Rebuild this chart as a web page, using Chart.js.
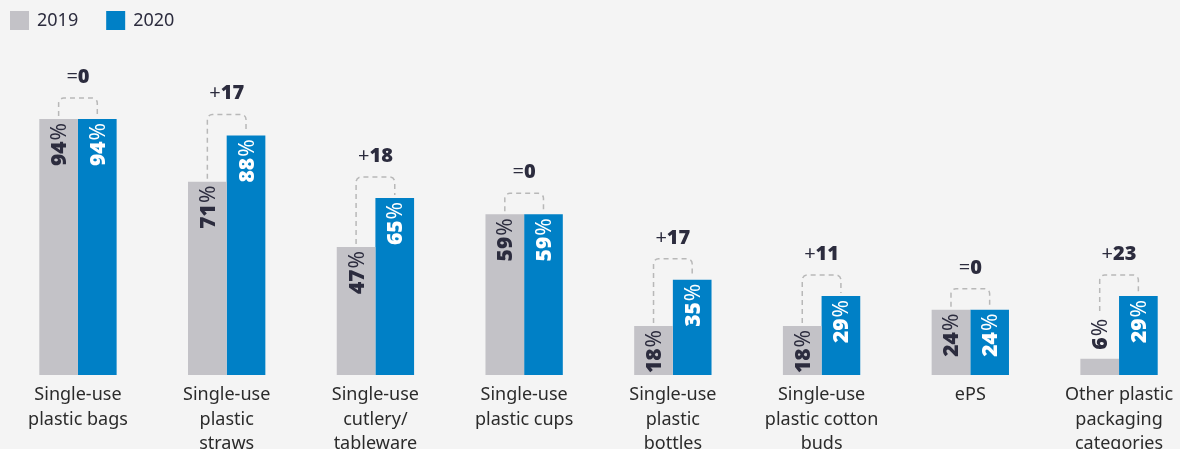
<!DOCTYPE html>
<html>
<head>
<meta charset="utf-8">
<script src="https://cdn.jsdelivr.net/npm/chart.js@4.4.1/dist/chart.umd.min.js"></script>
<style>
  html, body { margin: 0; padding: 0; background: #f4f4f4; overflow: hidden; width: 1180px; height: 449px; }
  #wrap { position: relative; width: 1194px; height: 480px; }
</style>
</head>
<body>
<div id="wrap"><canvas id="c" width="1194" height="480"></canvas></div>
<script>
const categories = [
  ["Single-use", "plastic bags"],
  ["Single-use", "plastic", "straws"],
  ["Single-use", "cutlery/", "tableware"],
  ["Single-use", "plastic cups"],
  ["Single-use", "plastic", "bottles"],
  ["Single-use", "plastic cotton", "buds"],
  ["ePS"],
  ["Other plastic", "packaging", "categories"]
];
const seriesLabels = ["2019", "2020"];
const values2019 = [94, 71, 47, 59, 18, 18, 24, 6];
const values2020 = [94, 88, 65, 59, 35, 29, 24, 29];

const FONT = "'Noto Sans', sans-serif";
const DARK = "#2c2c3e";
const GRAY = "#c3c2c7";
const BLUE = "#0080c6";
const VSIZE = 21;

const annotPlugin = {
  id: 'annot',
  afterDatasetsDraw(chart) {
    const ctx = chart.ctx;
    const mA = chart.getDatasetMeta(0), mB = chart.getDatasetMeta(1);
    const dsA = chart.data.datasets[0].data, dsB = chart.data.datasets[1].data;

    function valueLabel(bar, v, colorInside) {
      const num = String(v);
      ctx.font = `900 ${VSIZE}px ${FONT}`;
      const wn = ctx.measureText(num).width;
      ctx.font = `${VSIZE}px ${FONT}`;
      const wp = ctx.measureText('%').width;
      const total = wn + wp + 1;
      const h = bar.base - bar.y;
      const inside = h >= 30;
      const capHalf = VSIZE * 0.357;
      ctx.save();
      ctx.textBaseline = 'alphabetic';
      let top;
      if (inside) {
        ctx.translate(bar.x, bar.y + 4);
        ctx.rotate(-Math.PI / 2);
        ctx.fillStyle = colorInside;
        ctx.textAlign = 'right';
        ctx.font = `${VSIZE}px ${FONT}`;
        ctx.fillText('%', 0, capHalf);
        ctx.font = `900 ${VSIZE}px ${FONT}`;
        ctx.fillText(num, -wp - 1, capHalf);
        top = bar.y;
      } else {
        ctx.translate(bar.x, bar.y - 9);
        ctx.rotate(-Math.PI / 2);
        ctx.fillStyle = DARK;
        ctx.textAlign = 'left';
        ctx.font = `900 ${VSIZE}px ${FONT}`;
        ctx.fillText(num, 0, capHalf);
        ctx.font = `${VSIZE}px ${FONT}`;
        ctx.fillText('%', wn + 1, capHalf);
        top = bar.y - 9 - total;
      }
      ctx.restore();
      return top;
    }

    for (let i = 0; i < dsA.length; i++) {
      const a = mA.data[i], b = mB.data[i];
      const topA = valueLabel(a, dsA[i], DARK);
      const topB = valueLabel(b, dsB[i], '#ffffff');

      const bracketY = Math.min(a.y, b.y) - 21;
      const r = 5;
      const endA = (topA < a.y ? topA - 8 : a.y - 3);
      const endB = (topB < b.y ? topB - 8 : b.y - 3);
      ctx.save();
      ctx.strokeStyle = '#b8b8b8';
      ctx.lineWidth = 1.5;
      ctx.setLineDash([5, 4]);
      ctx.beginPath();
      ctx.moveTo(a.x, endA);
      ctx.lineTo(a.x, bracketY + r);
      ctx.arcTo(a.x, bracketY, a.x + r, bracketY, r);
      ctx.lineTo(b.x - r, bracketY);
      ctx.arcTo(b.x, bracketY, b.x, bracketY + r, r);
      ctx.lineTo(b.x, endB);
      ctx.stroke();
      ctx.restore();

      const d = dsB[i] - dsA[i];
      const sign = d === 0 ? '=' : (d > 0 ? '+' : '\u2212');
      const num = String(Math.abs(d));
      ctx.save();
      ctx.font = `20px ${FONT}`;
      const ws = ctx.measureText(sign).width;
      ctx.font = `900 20px ${FONT}`;
      const wn = ctx.measureText(num).width;
      const cx = (a.x + b.x) / 2;
      const x0 = cx - (ws + wn) / 2;
      const y = bracketY - 22 + 7;
      ctx.fillStyle = DARK;
      ctx.textAlign = 'left';
      ctx.textBaseline = 'alphabetic';
      ctx.font = `20px ${FONT}`;
      ctx.fillText(sign, x0, y);
      ctx.font = `900 20px ${FONT}`;
      ctx.fillText(num, x0 + ws, y);
      ctx.restore();
    }
  },
  afterDraw(chart) {
    const ctx = chart.ctx;
    let x = 10;
    ctx.save();
    ctx.font = `18px ${FONT}`;
    ctx.textBaseline = 'middle';
    ctx.textAlign = 'left';
    chart.data.datasets.forEach(ds => {
      ctx.fillStyle = ds.backgroundColor;
      ctx.fillRect(x, 11, 19, 19);
      ctx.fillStyle = DARK;
      ctx.fillText(ds.label, x + 27, 21);
      x += 27 + ctx.measureText(ds.label).width + 28;
    });
    ctx.restore();
  }
};

new Chart(document.getElementById('c'), {
  type: 'bar',
  data: {
    labels: categories,
    datasets: [
      { label: seriesLabels[0], data: values2019, backgroundColor: GRAY },
      { label: seriesLabels[1], data: values2020, backgroundColor: BLUE }
    ]
  },
  options: {
    responsive: false,
    animation: false,
    devicePixelRatio: 1,
    layout: { padding: { top: 102.7, left: 3.6, right: 0.6, bottom: 0 } },
    datasets: { bar: { categoryPercentage: 0.52, barPercentage: 1 } },
    plugins: { legend: { display: false }, tooltip: { enabled: false } },
    scales: {
      x: {
        grid: { display: false, drawTicks: false },
        border: { display: false },
        ticks: {
          color: '#2b2b2b',
          padding: 8,
          maxRotation: 0,
          autoSkip: false,
          font: { family: FONT, size: 18, lineHeight: 1.35 }
        },
        afterFit(scale) { scale.height = 105; }
      },
      y: { display: false, min: 0, max: 100 }
    }
  },
  plugins: [annotPlugin]
});
</script>
</body>
</html>
